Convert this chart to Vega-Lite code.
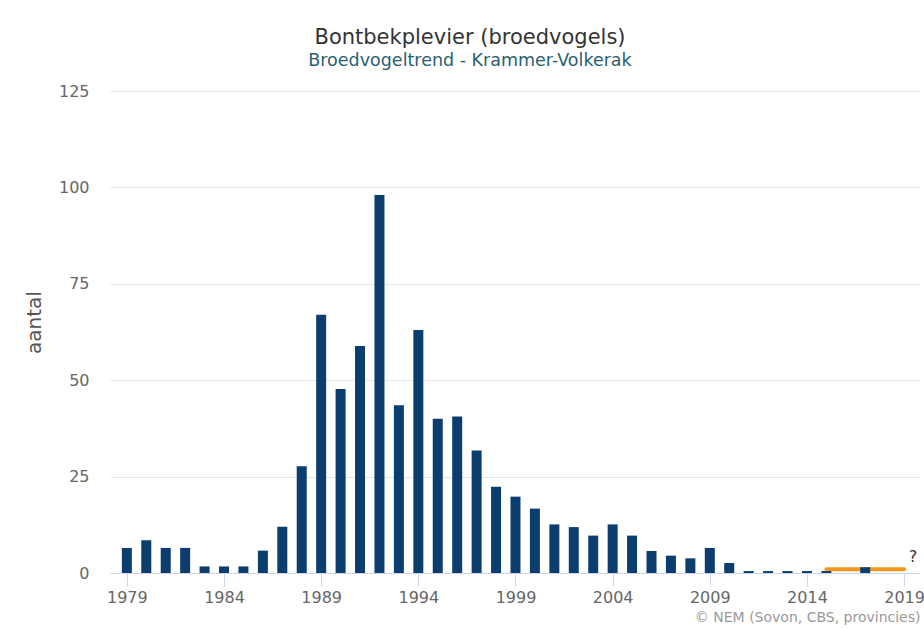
{
  "$schema": "https://vega.github.io/schema/vega-lite/v6.json",
  "width": 810,
  "height": 482,
  "autosize": {"type": "none"},
  "padding": {"left": 110, "top": 91, "right": 4, "bottom": 55},
  "background": "white",
  "title": {
    "text": "Bontbekplevier (broedvogels)",
    "subtitle": "Broedvogeltrend - Krammer-Volkerak",
    "anchor": "middle",
    "frame": "group",
    "dx": -45,
    "offset": 14,
    "font": "DejaVu Sans",
    "fontSize": 21,
    "fontWeight": "normal",
    "color": "#333333",
    "subtitleFont": "DejaVu Sans",
    "subtitleFontSize": 17.5,
    "subtitleColor": "#2a5f6e",
    "subtitlePadding": 4
  },
  "config": {
    "view": {"stroke": null},
    "font": "DejaVu Sans"
  },
  "datasets": {
    "bars": [
      {"jaar": 1979, "aantal": 6.5},
      {"jaar": 1980, "aantal": 8.5},
      {"jaar": 1981, "aantal": 6.5},
      {"jaar": 1982, "aantal": 6.5},
      {"jaar": 1983, "aantal": 1.7},
      {"jaar": 1984, "aantal": 1.7},
      {"jaar": 1985, "aantal": 1.7},
      {"jaar": 1986, "aantal": 5.8},
      {"jaar": 1987, "aantal": 12},
      {"jaar": 1988, "aantal": 27.7},
      {"jaar": 1989, "aantal": 67},
      {"jaar": 1990, "aantal": 47.7},
      {"jaar": 1991, "aantal": 58.9},
      {"jaar": 1992, "aantal": 98},
      {"jaar": 1993, "aantal": 43.5},
      {"jaar": 1994, "aantal": 63},
      {"jaar": 1995, "aantal": 40},
      {"jaar": 1996, "aantal": 40.6},
      {"jaar": 1997, "aantal": 31.8},
      {"jaar": 1998, "aantal": 22.4},
      {"jaar": 1999, "aantal": 19.8},
      {"jaar": 2000, "aantal": 16.7},
      {"jaar": 2001, "aantal": 12.6},
      {"jaar": 2002, "aantal": 11.9},
      {"jaar": 2003, "aantal": 9.7},
      {"jaar": 2004, "aantal": 12.6},
      {"jaar": 2005, "aantal": 9.7},
      {"jaar": 2006, "aantal": 5.7},
      {"jaar": 2007, "aantal": 4.5},
      {"jaar": 2008, "aantal": 3.8},
      {"jaar": 2009, "aantal": 6.5},
      {"jaar": 2010, "aantal": 2.6},
      {"jaar": 2011, "aantal": 0.5},
      {"jaar": 2012, "aantal": 0.5},
      {"jaar": 2013, "aantal": 0.5},
      {"jaar": 2014, "aantal": 0.5},
      {"jaar": 2015, "aantal": 0.5},
      {"jaar": 2017, "aantal": 1.5}
    ],
    "trend": [
      {"jaar": 2015, "trend": 1},
      {"jaar": 2016, "trend": 1},
      {"jaar": 2017, "trend": 1},
      {"jaar": 2018, "trend": 1},
      {"jaar": 2019, "trend": 1}
    ],
    "note": [
      {"jaar": 2019, "trend": 1, "label": "?"}
    ]
  },
  "layer": [
    {
      "data": {"name": "trend"},
      "mark": {"type": "line", "color": "#f5991c", "strokeWidth": 4, "strokeCap": "round"},
      "encoding": {
        "x": {
          "field": "jaar",
          "type": "quantitative",
          "scale": {"domain": [1978.39, 2019.56], "nice": false, "zero": false},
          "axis": {
            "values": [1979, 1984, 1989, 1994, 1999, 2004, 2009, 2014, 2019],
            "format": "d",
            "grid": false,
            "labelFont": "DejaVu Sans",
            "labelFontSize": 16,
            "labelColor": "#666666",
            "labelPadding": 3,
            "domainColor": "#ccd6eb",
            "tickColor": "#ccd6eb",
            "tickSize": 13,
            "title": "© NEM (Sovon, CBS, provincies)",
            "titleAnchor": "end",
            "titleAlign": "right",
            "titleFont": "DejaVu Sans",
            "titleFontSize": 14,
            "titleFontWeight": "normal",
            "titleColor": "#999999",
            "titlePadding": 5
          }
        },
        "y": {
          "field": "trend",
          "type": "quantitative",
          "scale": {"domain": [0, 125], "nice": false},
          "axis": {
            "values": [0, 25, 50, 75, 100, 125],
            "domain": false,
            "ticks": false,
            "grid": true,
            "gridColor": "#e6e6e6",
            "labelFont": "DejaVu Sans",
            "labelFontSize": 16,
            "labelColor": "#666666",
            "labelPadding": 21,
            "title": "aantal",
            "titleFont": "DejaVu Sans",
            "titleFontSize": 20,
            "titleFontWeight": "normal",
            "titleColor": "#555555",
            "titlePadding": 14,
            "titleY": 231
          }
        }
      }
    },
    {
      "data": {"name": "bars"},
      "mark": {"type": "bar", "size": 10, "color": "#0b3d6f"},
      "encoding": {
        "x": {"field": "jaar", "type": "quantitative"},
        "y": {"field": "aantal", "type": "quantitative"}
      }
    },
    {
      "data": {"name": "note"},
      "mark": {"type": "text", "dx": 9, "dy": -12, "fontSize": 16, "color": "#333333", "font": "DejaVu Sans"},
      "encoding": {
        "x": {"field": "jaar", "type": "quantitative"},
        "y": {"field": "trend", "type": "quantitative"},
        "text": {"field": "label"}
      }
    }
  ]
}
